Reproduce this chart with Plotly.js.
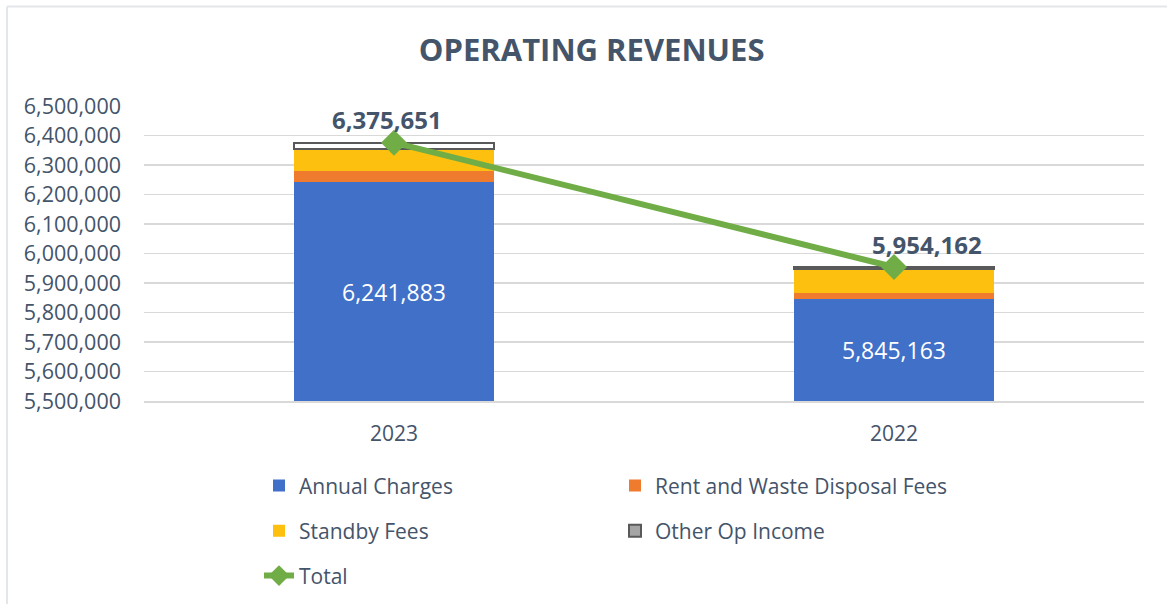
<!DOCTYPE html>
<html>
<head>
<meta charset="utf-8">
<script src="https://cdn.plot.ly/plotly-3.0.1.min.js"></script>
<style>html,body{margin:0;padding:0;background:#fff;}#chart{width:1167px;height:604px;}</style>
</head>
<body>
<div id="chart"></div>
<script>
const years = ["2023", "2022"];
const annualCharges = [6241883, 5845163];
const rentWaste = [38500, 20500];
const standbyFees = [75500, 80500];
const otherOpIncome = [19768, 7999];
const totals = [6375651, 5954162];
const yTicks = [5500000, 5600000, 5700000, 5800000, 5900000, 6000000, 6100000, 6200000, 6300000, 6400000, 6500000];
const yRange = [5500000, 6500000];

const FONT = "Open Sans, sans-serif";
const TXT = "#44546a";
const fmt = v => v.toLocaleString("en-US");

const traces = [
  {type: "bar", name: "Annual Charges", x: years, y: annualCharges,
   marker: {color: "#4170c8"}, textposition: "none", legend: "legend"},
  {type: "bar", name: "Rent and Waste Disposal Fees", x: years, y: rentWaste,
   marker: {color: "#ef7b2e"}, textposition: "none", legend: "legend"},
  {type: "bar", name: "Standby Fees", x: years, y: standbyFees,
   marker: {color: "#fdc00f"}, textposition: "none", legend: "legend2"},
  {type: "bar", name: "Other Op Income", x: years, y: otherOpIncome, showlegend: false,
   marker: {color: "#ffffff", line: {color: "#595959", width: 2}}, textposition: "none"},
  {type: "bar", name: "Other Op Income", x: years, y: [null, null], legend: "legend2",
   marker: {color: "#a5a5a5", line: {color: "#595959", width: 2}}, hoverinfo: "skip"},
  {type: "scatter", name: "Total", x: years, y: totals, mode: "lines+markers",
   line: {color: "#70ad47", width: 6}, marker: {symbol: "diamond", size: 20, color: "#70ad47"},
   legend: "legend3"}
];

// value labels, positioned through the axes (category index) from the data
const labelXShift = [-7, 33];
const annotations = [];
years.forEach((yr, i) => {
  annotations.push({x: i, y: (yRange[0] + annualCharges[i]) / 2,
    xref: "x", yref: "y", text: fmt(annualCharges[i]), showarrow: false,
    font: {size: 23, color: "#ffffff", family: FONT}, yanchor: "middle"});
  annotations.push({x: i, y: totals[i], xref: "x", yref: "y", text: "<b>" + fmt(totals[i]) + "</b>",
    showarrow: false, xshift: labelXShift[i], yshift: 23, yanchor: "middle",
    font: {size: 24, color: TXT, family: FONT}});
});

const legendBase = {orientation: "h", xanchor: "left", yanchor: "middle", x: 0.115,
  entrywidth: 311, entrywidthmode: "pixels", font: {size: 21, color: TXT, family: FONT},
  bgcolor: "rgba(0,0,0,0)", traceorder: "normal"};

const layout = {
  width: 1167, height: 604,
  margin: {l: 144, r: 23, t: 106, b: 203, autoexpand: false},
  paper_bgcolor: "#ffffff", plot_bgcolor: "#ffffff",
  font: {family: FONT, color: TXT},
  title: {text: "<b>OPERATING REVENUES</b>", x: 0.507, xanchor: "center", y: 0.917, yanchor: "middle",
          font: {size: 31, color: TXT, family: FONT}},
  barmode: "stack", bargap: 0.6,
  xaxis: {type: "category", range: [-0.5, 1.5], showgrid: false, zeroline: false,
          showline: true, linecolor: "#d9d9d9", linewidth: 1.5, ticks: "",
          tickfont: {size: 21, color: TXT, family: FONT}, ticklabelstandoff: 13},
  yaxis: {range: yRange, tickvals: yTicks, ticktext: yTicks.map(fmt),
          showgrid: true, gridcolor: "#d9d9d9", gridwidth: 1.5, zeroline: false,
          showline: false, ticks: "", tickfont: {size: 21.5, color: TXT, family: FONT},
          ticklabelstandoff: 22},
  annotations: annotations,
  legend: Object.assign({}, legendBase, {y: -0.288}),
  legend2: Object.assign({}, legendBase, {y: -0.441}),
  legend3: Object.assign({}, legendBase, {y: -0.593}),
  shapes: [
    {type: "line", xref: "paper", yref: "paper", x0: -137/1000, x1: -137/1000, y0: 1.337, y1: -0.7,
     line: {color: "#e3e6ea", width: 2}},
    {type: "line", xref: "paper", yref: "paper", x0: -137/1000, x1: 1.03, y0: 1.337, y1: 1.337,
     line: {color: "#e3e6ea", width: 2}}
  ],
  showlegend: true
};

Plotly.newPlot("chart", traces, layout, {displayModeBar: false, staticPlot: true});
</script>
</body>
</html>
